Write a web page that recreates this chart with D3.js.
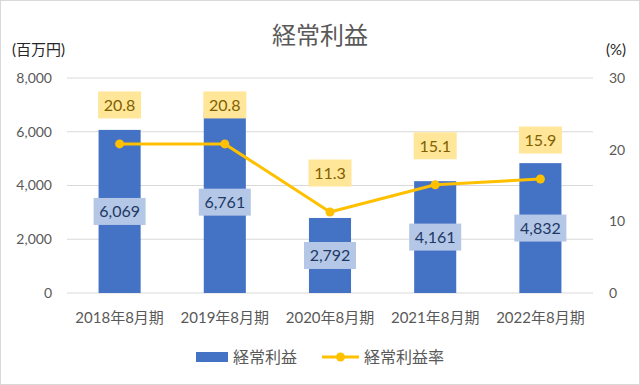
<!DOCTYPE html>
<html>
<head>
<meta charset="utf-8">
<script src="https://cdn.jsdelivr.net/npm/d3@7"></script>
<style>
  body { margin: 0; background: #fff; }
  text { font-family: Lato, "Noto Sans CJK JP", sans-serif; }
</style>
</head>
<body>
<div id="Area"></div>
<script>
var categories = ["2018年8月期", "2019年8月期", "2020年8月期", "2021年8月期", "2022年8月期"];
var profit = [6069, 6761, 2792, 4161, 4832];
var margin = [20.8, 20.8, 11.3, 15.1, 15.9];
var leftTicks = [0, 2000, 4000, 6000, 8000];
var rightTicks = [0, 10, 20, 30];

var W = 640, H = 385;
var plot = { left: 67, right: 593, top: 78, bottom: 293 };

var svg = d3.select("#Area").append("svg")
  .attr("width", W)
  .attr("height", H);

// outer border
svg.append("rect")
  .attr("x", 0.5).attr("y", 0.5)
  .attr("width", W - 1).attr("height", H - 1)
  .attr("fill", "#fff")
  .attr("stroke", "#d9d9d9");

var x = d3.scaleBand()
  .domain(categories)
  .range([plot.left, plot.right])
  .paddingInner(0.6)
  .paddingOuter(0.3);

var y = d3.scaleLinear().domain([0, 8000]).range([plot.bottom, plot.top]);
var y2 = d3.scaleLinear().domain([0, 30]).range([plot.bottom, plot.top]);

// gridlines
svg.append("g").selectAll("line")
  .data(leftTicks)
  .enter().append("line")
  .attr("x1", plot.left).attr("x2", plot.right)
  .attr("y1", function (d) { return y(d); })
  .attr("y2", function (d) { return y(d); })
  .attr("stroke", "#d9d9d9")
  .attr("stroke-width", 1);

// left axis
var axL = svg.append("g")
  .attr("transform", "translate(" + (plot.left - 12) + ",0)")
  .call(d3.axisLeft(y).tickValues(leftTicks).tickSize(0).tickFormat(d3.format(",")));
axL.select(".domain").remove();
axL.selectAll("text").attr("fill", "#595959").style("font-size", "14px");

// right axis
var axR = svg.append("g")
  .attr("transform", "translate(" + (plot.right + 13) + ",0)")
  .call(d3.axisRight(y2).tickValues(rightTicks).tickSize(0));
axR.select(".domain").remove();
axR.selectAll("text").attr("fill", "#595959").style("font-size", "14px");

// category axis
var axB = svg.append("g")
  .attr("transform", "translate(0," + (plot.bottom + 16) + ")")
  .call(d3.axisBottom(x).tickSize(0));
axB.select(".domain").remove();
axB.selectAll("text").attr("fill", "#595959").style("font-size", "15px");

// bars
svg.selectAll(".bar")
  .data(profit)
  .enter().append("rect")
  .attr("class", "bar")
  .attr("x", function (d, i) { return x(categories[i]); })
  .attr("y", function (d) { return y(d); })
  .attr("width", x.bandwidth())
  .attr("height", function (d) { return plot.bottom - y(d); })
  .attr("fill", "#4472c4");

// line
var cx = function (i) { return x(categories[i]) + x.bandwidth() / 2; };
var line = d3.line()
  .x(function (d, i) { return cx(i); })
  .y(function (d) { return y2(d); });
svg.append("path")
  .datum(margin)
  .attr("d", line)
  .attr("fill", "none")
  .attr("stroke", "#ffc000")
  .attr("stroke-width", 3)
  .attr("stroke-linejoin", "round");
svg.selectAll(".dot")
  .data(margin)
  .enter().append("circle")
  .attr("cx", function (d, i) { return cx(i); })
  .attr("cy", function (d) { return y2(d); })
  .attr("r", 4.5)
  .attr("fill", "#ffc000");

// bar labels
var bl = svg.selectAll(".blab")
  .data(profit)
  .enter().append("g")
  .attr("transform", function (d, i) {
    return "translate(" + cx(i) + "," + ((y(d) + plot.bottom) / 2) + ")";
  });
bl.append("rect")
  .attr("x", -26).attr("y", -13.5)
  .attr("width", 52).attr("height", 27)
  .attr("fill", "#b4c7e7");
bl.append("text")
  .attr("text-anchor", "middle")
  .attr("dy", "0.36em")
  .attr("fill", "#203864")
  .style("font-size", "16px")
  .text(function (d) { return d3.format(",")(d); });

// line labels
var ll = svg.selectAll(".llab")
  .data(margin)
  .enter().append("g")
  .attr("transform", function (d, i) {
    return "translate(" + cx(i) + "," + (y2(d) - 39) + ")";
  });
ll.append("rect")
  .attr("x", -21.5).attr("y", -13.5)
  .attr("width", 43).attr("height", 27)
  .attr("fill", "#ffe699");
ll.append("text")
  .attr("text-anchor", "middle")
  .attr("dy", "0.36em")
  .attr("fill", "#7f6000")
  .style("font-size", "16px")
  .text(function (d) { return d.toFixed(1); });

// titles
svg.append("text")
  .attr("x", W / 2).attr("y", 44)
  .attr("text-anchor", "middle")
  .attr("fill", "#595959")
  .style("font-size", "24px")
  .text("経常利益");
svg.append("text")
  .attr("x", 12).attr("y", 55)
  .attr("fill", "#262626")
  .style("font-size", "15px")
  .text("(百万円)");
svg.append("text")
  .attr("x", 626).attr("y", 55)
  .attr("text-anchor", "end")
  .attr("fill", "#262626")
  .style("font-size", "15px")
  .text("(%)");

// legend
var lg = svg.append("g").attr("transform", "translate(0,357)");
lg.append("rect")
  .attr("x", 196).attr("y", -5)
  .attr("width", 32).attr("height", 10)
  .attr("fill", "#4472c4");
lg.append("text")
  .attr("x", 233).attr("dy", "0.36em")
  .attr("fill", "#595959")
  .style("font-size", "16px")
  .text("経常利益");
lg.append("line")
  .attr("x1", 322).attr("x2", 359)
  .attr("stroke", "#ffc000").attr("stroke-width", 3);
lg.append("circle")
  .attr("cx", 340.5).attr("r", 4.5)
  .attr("fill", "#ffc000");
lg.append("text")
  .attr("x", 364).attr("dy", "0.36em")
  .attr("fill", "#595959")
  .style("font-size", "16px")
  .text("経常利益率");
</script>
</body>
</html>
